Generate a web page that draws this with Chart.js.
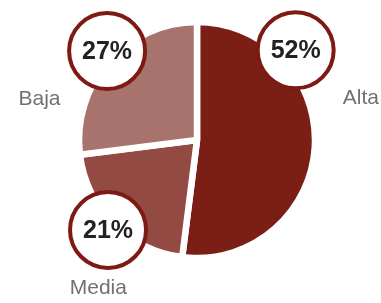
<!DOCTYPE html>
<html>
<head>
<meta charset="utf-8">
<script src="https://cdn.jsdelivr.net/npm/chart.js@4/dist/chart.umd.min.js"></script>
<style>
  html, body { margin: 0; padding: 0; background: #fff; }
  canvas { display: block; }
</style>
</head>
<body>
<canvas id="pie" width="381" height="303"></canvas>
<script>
// ---------------- DATA ----------------
const labels = ["Alta", "Media", "Baja"];
const values = [52, 21, 27];
const colors = ["#7b1f16", "#924a43", "#a8726d"];

// callout placement (degrees clockwise from top, distance as fraction of radius)
const bubbleAngles = [47.7, 224.7, 314.7];
const bubbleDist = [1.16, 1.10, 1.10];
const labelAngles = [75.8, 213.6, 284.6];
const labelDist = [1.47, 1.55, 1.415];

// ---------------- CALLOUTS ----------------
const callouts = {
    id: "callouts",
    afterDraw(chart) {
        const ctx = chart.ctx;
        const arc = chart.getDatasetMeta(0).data[0];
        const cx = arc.x, cy = arc.y, R = 115;
        const total = values.reduce((a, b) => a + b, 0);

        ctx.save();
        ctx.textAlign = "center";
        ctx.textBaseline = "middle";

        values.forEach((v, i) => {
            // bubble
            let a = bubbleAngles[i] * Math.PI / 180;
            let x = cx + Math.sin(a) * R * bubbleDist[i];
            let y = cy - Math.cos(a) * R * bubbleDist[i];
            ctx.beginPath();
            ctx.arc(x, y, 38, 0, Math.PI * 2);
            ctx.fillStyle = "#fff";
            ctx.fill();
            ctx.lineWidth = 4;
            ctx.strokeStyle = "#7e1a14";
            ctx.stroke();
            ctx.fillStyle = "#222";
            ctx.font = 'bold 25px "Liberation Sans", Arial, sans-serif';
            ctx.fillText(Math.round(v / total * 100) + "%", x, y + 1);

            // category label
            a = labelAngles[i] * Math.PI / 180;
            x = cx + Math.sin(a) * R * labelDist[i];
            y = cy - Math.cos(a) * R * labelDist[i];
            ctx.fillStyle = "#707070";
            ctx.font = '21px "Liberation Sans", Arial, sans-serif';
            ctx.fillText(labels[i], x, y);
        });
        ctx.restore();
    }
};

// ---------------- CHART ----------------
new Chart(document.getElementById("pie"), {
    type: "pie",
    data: {
        labels: labels,
        datasets: [{
            data: values,
            backgroundColor: colors,
            borderColor: "#fff",
            borderWidth: 6.5,
            hoverOffset: 0
        }]
    },
    options: {
        responsive: false,
        animation: false,
        radius: 118,
        layout: { padding: { left: 13, right: 0, top: 0, bottom: 23 } },
        plugins: {
            legend: { display: false },
            tooltip: { enabled: false }
        }
    },
    plugins: [callouts]
});
</script>
</body>
</html>
